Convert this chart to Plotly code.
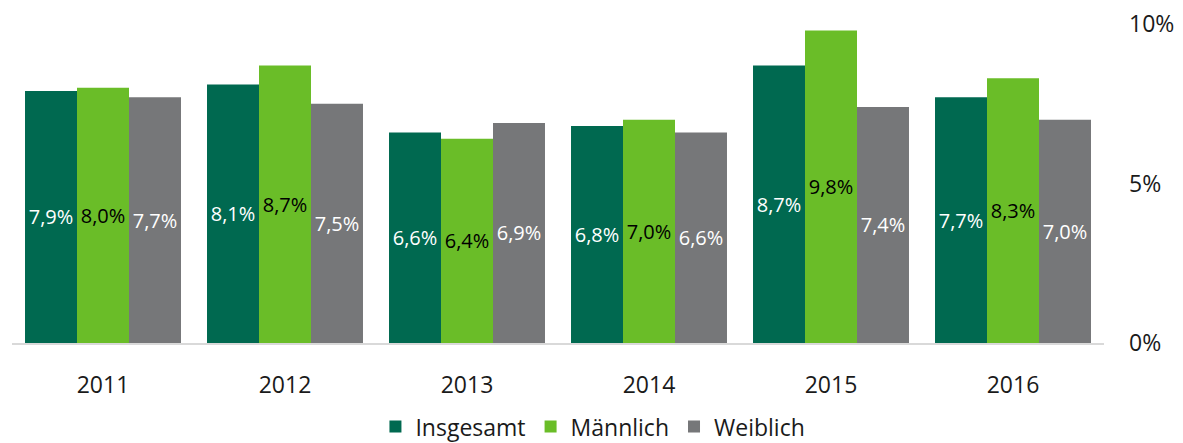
import plotly.graph_objects as go

years = ["2011", "2012", "2013", "2014", "2015", "2016"]
insgesamt = [7.9, 8.1, 6.6, 6.8, 8.7, 7.7]
maennlich = [8.0, 8.7, 6.4, 7.0, 9.8, 8.3]
weiblich = [7.7, 7.5, 6.9, 6.6, 7.4, 7.0]

series = [
    ("Insgesamt", insgesamt, "#006950", "white"),
    ("Männlich", maennlich, "#6abd28", "black"),
    ("Weiblich", weiblich, "#767779", "white"),
]

fig = go.Figure()

for name, vals, color, txtcolor in series:
    fig.add_trace(go.Bar(
        x=years, y=vals,
        name=name,
        marker=dict(color=color, line=dict(width=0)),
        text=[f"{v:.1f}%".replace(".", ",") for v in vals],
        textposition="inside",
        insidetextanchor="middle",
        textangle=0,
        textfont=dict(color=txtcolor, size=20),
    ))

# page body has an 8px margin, so the figure is sized a bit smaller
fig.update_layout(
    barmode="group",
    bargap=0.143,
    bargroupgap=0,
    width=1175, height=435,
    margin=dict(l=4, r=79, t=16, b=100, autoexpand=False),
    plot_bgcolor="white",
    paper_bgcolor="white",
    font=dict(family="Open Sans", size=22, color="#1a1a1a"),
    showlegend=True,
    legend=dict(
        orientation="h",
        x=0.532, xanchor="center",
        y=-0.262, yanchor="middle",
        font=dict(size=23),
        itemsizing="constant",
    ),
    uniformtext=dict(minsize=20, mode="show"),
)

fig.update_xaxes(
    showline=True, linecolor="#d9d9d9", linewidth=2,
    ticks="", ticklabelstandoff=20, automargin=False,
    tickfont=dict(size=23, color="#1a1a1a"),
)
fig.update_yaxes(
    side="right", range=[0, 10],
    tickvals=[0, 5, 10], ticktext=["0%", "5%", "10%"],
    showgrid=False, zeroline=False, showline=False,
    ticklabelstandoff=24, automargin=False,
    ticklabeloverflow="allow",
    tickfont=dict(size=23, color="#1a1a1a"),
)

fig.write_html("out.html")
